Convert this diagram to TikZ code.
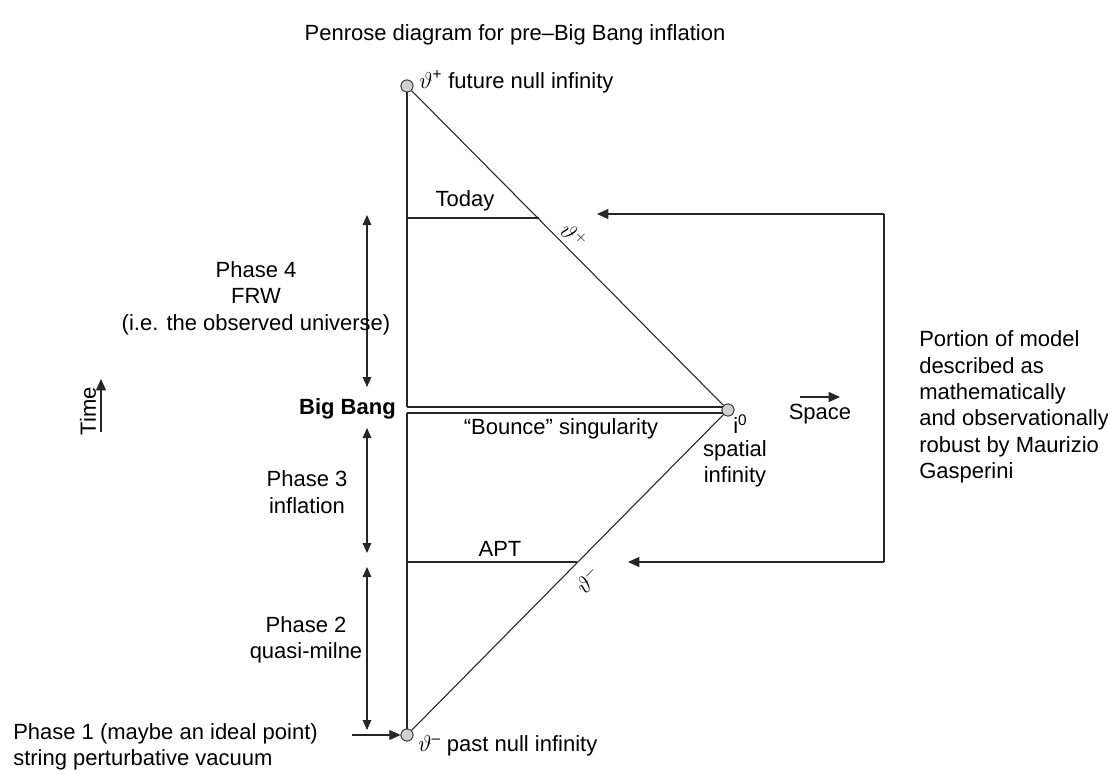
\documentclass[tikz,border=0pt]{standalone}
\usepackage{fontspec}
\setmainfont{Liberation Sans}
\usetikzlibrary{arrows.meta}
\tikzset{
  txt/.style={inner sep=0pt, font=\fontsize{16.5}{19.8}\selectfont},
  ln/.style={line width=0.8pt, black!85},
  dot/.style={circle, draw=black!80, line width=0.6pt, fill=black!18, minimum size=9pt, inner sep=0pt},
  tip/.style={-{Triangle[length=8.5pt,width=7.5pt]}},
  dtip/.style={{Triangle[length=7.5pt,width=6.5pt]}-{Triangle[length=7.5pt,width=6.5pt]}},
}
\begin{document}
\begin{tikzpicture}[x=0.75pt,y=-0.75pt]
\useasboundingbox (0,0) rectangle (1108,775);
% title
\node[txt] (title) at (515,35) {Penrose diagram for pre–Big Bang inflation};
% main points
\node[dot] (top) at (407,86) {};
\node[dot] (bot) at (407,735) {};
\node[dot] (izero) at (728,410) {};
\coordinate (bbT) at (407,407);
\coordinate (bbB) at (407,413);
\coordinate (bbTR) at (723,407);
\coordinate (bbBR) at (723,413);
\coordinate (todL) at (407,218);
\coordinate (todR) at (539,218);
\coordinate (aptL) at (407,562);
\coordinate (aptR) at (577,562);
\draw[ln] (top) -- (bbT);
\draw[ln] (bbB) -- (bot);
\draw[ln] (top) -- (izero);
\draw[ln] (izero) -- (bot);
\draw[ln] (bbT) -- (bbTR);
\draw[ln] (bbB) -- (bbBR);
\draw[ln] (todL) -- (todR);
\draw[ln] (aptL) -- (aptR);
\node[dot] at (izero) {};
\node[dot] at (top) {};
\node[dot] at (bot) {};
% point labels
\node[txt, anchor=west] (toplab) at (419,82) {$\vartheta$\textsuperscript{+} future null infinity};
\node[txt, anchor=west] (botlab) at (418,746) {$\vartheta$\textsuperscript{–} past null infinity};
\node[txt, anchor=west] (i0lab) at (733,424) {i\textsuperscript{0}};
\node[txt, align=center] (spinf) at (735,464) {spatial\\infinity};
% line labels
\node[txt] (today) at (465,201) {Today};
\node[txt] (apt) at (500,549) {APT};
\node[txt] (bounce) at (561,429) {“Bounce” singularity};
\node[txt, rotate=-45] (scrip) at (574,236) {$\vartheta^{+}$};
\node[txt, rotate=45] (scrim) at (588,580) {$\vartheta^{-}$};
% phase arrows
\coordinate (p4a) at (367,215);
\coordinate (p4b) at (367,387);
\coordinate (p3a) at (367,428);
\coordinate (p3b) at (367,553);
\coordinate (p2a) at (367,567);
\coordinate (p2b) at (367,730);
\draw[ln, dtip] (p4a) -- (p4b);
\draw[ln, dtip] (p3a) -- (p3b);
\draw[ln, dtip] (p2a) -- (p2b);
\node[txt, align=center] (ph4) at (256,298) {Phase 4\\FRW\\(i.e. the observed universe)};
\node[txt, anchor=east, font=\fontsize{16.5}{19.8}\selectfont\bfseries] (bb) at (396,409) {Big Bang};
\node[txt, align=center] (ph3) at (307,492) {Phase 3\\inflation};
\node[txt, align=center] (ph2) at (306,640) {Phase 2\\quasi-milne};
\node[txt, align=left, anchor=west] (ph1) at (13,747) {Phase 1 (maybe an ideal point)\\string perturbative vacuum};
\coordinate (ph1a) at (352,735);
\draw[ln, tip] (ph1a) -- (bot.west);
% time
\node[txt, rotate=90] (time) at (88,411) {Time};
\coordinate (tA) at (101,432);
\coordinate (tB) at (101,379);
\draw[ln, tip] (tA) -- (tB);
% space
\node[txt] (space) at (820,414) {Space};
\coordinate (sA) at (800,397);
\coordinate (sB) at (840,397);
\draw[ln, tip] (sA) -- (sB);
% right bracket
\node[txt, align=left, anchor=west] (portion) at (919,407) {Portion of model\\described as\\mathematically\\and observationally\\robust by Maurizio\\Gasperini};
\coordinate (rT) at (884,214);
\coordinate (rB) at (884,562);
\coordinate (rTtip) at (597,214);
\coordinate (rBtip) at (628,562);
\draw[ln, tip] (rB) -- (rBtip);
\draw[ln, tip] (rT) -- (rTtip);
\draw[ln] (rT) -- (rB);
\end{tikzpicture}
\end{document}
